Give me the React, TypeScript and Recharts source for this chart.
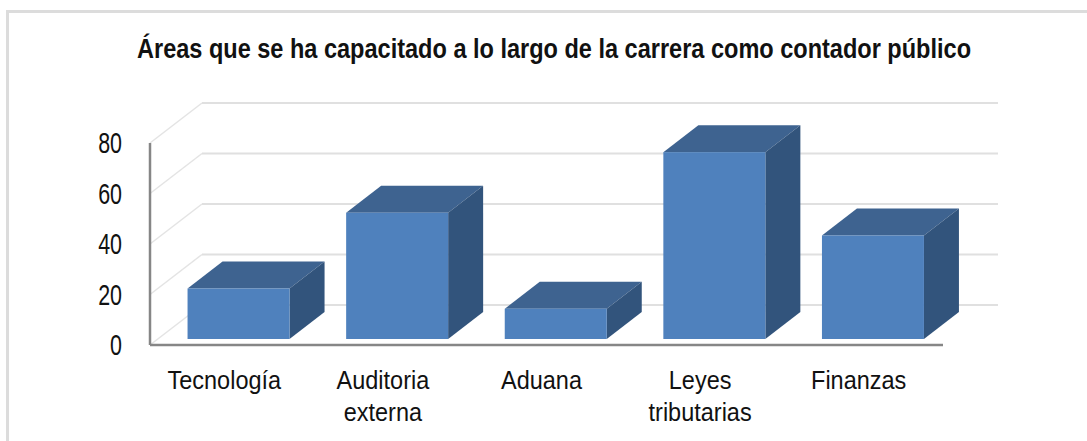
import { BarChart, Bar, XAxis, YAxis, CartesianGrid } from 'recharts';

const categories = ['Tecnología', 'Auditoria externa', 'Aduana', 'Leyes tributarias', 'Finanzas'];
const values = [20, 50, 12, 74, 41];
const yTicks = [0, 20, 40, 60, 80];
const chartTitle = 'Áreas que se ha capacitado a lo largo de la carrera como contador público';

const data = categories.map((name, i) => ({ name, value: values[i] }));

const FONT = '"Liberation Sans", Arial, sans-serif';

// wall depth of the fake 3D plot
const WALL_DX = 52;
const WALL_DY = -40;

// draws the diagonal on the side wall and the line on the back wall
const gridLine = (props: any) => {
  const { x1, x2, y1, index } = props;
  return (
    <g key={`grid-${index}`} fill="none">
      <path d={`M${x1},${y1}L${x1 + WALL_DX},${y1 + WALL_DY}`} stroke="#e4e4e4" strokeWidth={1.5} />
      <path d={`M${x1 + WALL_DX},${y1 + WALL_DY}L${x2 + WALL_DX + 3},${y1 + WALL_DY}`} stroke="#e0e0e0" strokeWidth={2} />
    </g>
  );
};

// box with front, top and side faces
const Box3D = (props: any) => {
  const { x, y, width, height } = props;
  const left = x + 9;
  const right = left + width;
  const top = y - 6;
  const bottom = top + height;
  const dx = 35;
  const dy = -27;
  return (
    <g>
      <path d={`M${left},${top}L${left + dx},${top + dy}L${right + dx},${top + dy}L${right},${top}Z`} fill="#3E6390" />
      <path d={`M${right},${top}L${right + dx},${top + dy}L${right + dx},${bottom + dy}L${right},${bottom}Z`} fill="#32547C" />
      <rect x={left} y={top} width={width} height={height} fill="#4F81BD" />
    </g>
  );
};

const XTick = (props: any) => {
  const { x, y, payload } = props;
  const lines = String(payload.value).split(' ');
  return (
    <g>
      {lines.map((line, i) => (
        <text
          key={line}
          transform={`translate(${x - 5},${y + i * 32}) scale(1,1.12)`}
          textAnchor="middle"
          fontFamily={FONT}
          fontSize={23.5}
          fill="#111"
        >
          {line}
        </text>
      ))}
    </g>
  );
};

const YTick = (props: any) => {
  const { y, payload } = props;
  return (
    <text
      transform={`translate(122,${y + 10}) scale(0.74,1)`}
      textAnchor="end"
      fontFamily={FONT}
      fontSize={29}
      fill="#111"
    >
      {payload.value}
    </text>
  );
};

export default function App() {
  return (
    <div style={{ position: 'absolute', left: 0, top: 0, width: 1087, height: 441, background: '#fff', overflow: 'hidden' }}>
      <div style={{ position: 'absolute', left: 6, top: 10, width: 1200, height: 500, border: '3px solid #dcdcdc' }} />
      <svg width={1087} height={70} style={{ position: 'absolute', left: 0, top: 0 }}>
        <text
          transform="translate(137,58) scale(1,1.12)"
          fontFamily={FONT}
          fontWeight="bold"
          fontSize={24}
          textLength={834}
          lengthAdjust="spacingAndGlyphs"
          fill="#111"
        >
          {chartTitle}
        </text>
      </svg>
      <div style={{ position: 'absolute', left: 0, top: 0 }}>
        <BarChart
          width={1087}
          height={441}
          data={data}
          margin={{ top: 143, right: 144, bottom: 0, left: 0 }}
          barCategoryGap="18%"
        >
          <CartesianGrid vertical={false} horizontal={gridLine} />
          <XAxis
            dataKey="name"
            height={96}
            interval={0}
            axisLine={{ stroke: '#868686', strokeWidth: 2.5 }}
            tickLine={false}
            tick={<XTick />}
            tickMargin={38}
          />
          <YAxis
            domain={[0, 80]}
            ticks={yTicks}
            width={150}
            axisLine={{ stroke: '#868686', strokeWidth: 2.5 }}
            tickLine={false}
            tick={<YTick />}
          />
          <Bar dataKey="value" shape={<Box3D />} isAnimationActive={false} />
        </BarChart>
      </div>
    </div>
  );
}
